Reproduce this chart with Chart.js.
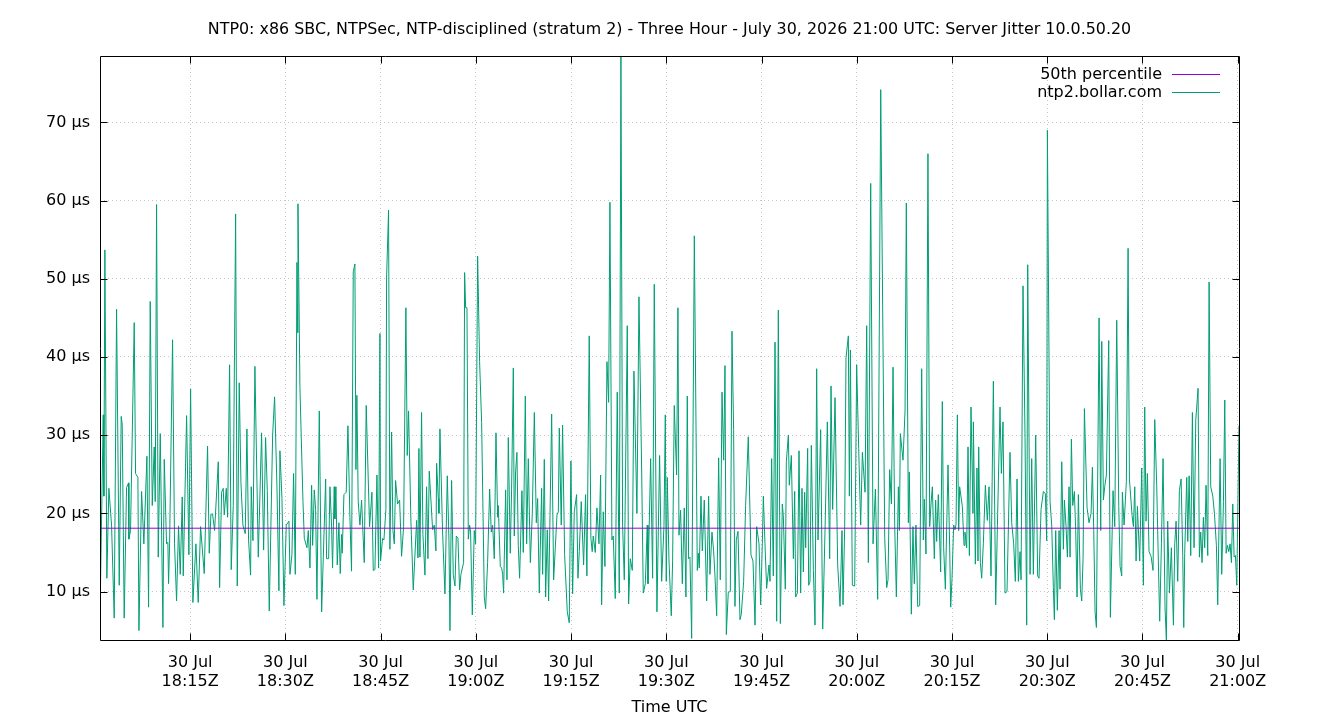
<!DOCTYPE html>
<html>
<head>
<meta charset="utf-8">
<script src="https://cdn.jsdelivr.net/npm/chart.js@4/dist/chart.umd.min.js"></script>
<style>
  html, body { margin: 0; padding: 0; background: #ffffff; }
  #wrap { width: 1340px; height: 720px; }
</style>
</head>
<body>
<div id="wrap"><canvas id="c" width="1340" height="720"></canvas></div>
<script>
// ---------- DATA ----------
const chartTitle = "NTP0: x86 SBC, NTPSec, NTP-disciplined (stratum 2) - Three Hour - July 30, 2026 21:00 UTC: Server Jitter 10.0.50.20";
const xAxisTitle = "Time UTC";
const seriesLabel = "ntp2.bollar.com";
const medianLabel = "50th percentile";
const medianJitterUs = 18.1;

// minutes after 18:00Z
const xTickMinutes = [15, 30, 45, 60, 75, 90, 105, 120, 135, 150, 165, 180];
const xTickLabels = [
  ["30 Jul", "18:15Z"], ["30 Jul", "18:30Z"], ["30 Jul", "18:45Z"], ["30 Jul", "19:00Z"],
  ["30 Jul", "19:15Z"], ["30 Jul", "19:30Z"], ["30 Jul", "19:45Z"], ["30 Jul", "20:00Z"],
  ["30 Jul", "20:15Z"], ["30 Jul", "20:30Z"], ["30 Jul", "20:45Z"], ["30 Jul", "21:00Z"]
];
const yTickValues = [10, 20, 30, 40, 50, 60, 70];
const yTickLabels = ["10 µs", "20 µs", "30 µs", "40 µs", "50 µs", "60 µs", "70 µs"];

// sample times, minutes after 18:00Z
const sampleMinutes = [
  0.80,1.31,1.41,1.57,1.88,2.20,2.62,3.04,3.41,3.83,4.14,4.30,4.61,4.98,5.30,5.35,5.61,6.19,6.40,6.77,6.93,7.35,7.71,8.19,8.45,8.71,9.03,9.34,9.50,9.71,9.97,10.29,10.71,10.92,11.28,11.49,11.60,11.76,12.23,12.54,12.86,13.17,13.44,13.75,13.91,14.44,14.80,15.07,15.43,15.91,16.27,16.64,17.22,17.74,18.01,18.27,18.53,18.85,
  19.43,19.64,19.95,20.21,20.37,20.69,20.90,21.21,21.47,21.79,22.16,22.42,22.73,23.00,23.31,23.68,23.94,24.20,24.52,24.62,24.89,25.20,25.73,26.25,26.57,26.88,27.15,27.46,27.99,28.30,28.67,28.98,29.14,29.46,29.77,30.14,30.56,30.72,31.03,31.29,31.56,31.82,31.93,31.98,32.29,32.77,32.98,33.40,33.61,33.87,34.13,34.29,34.55,34.76,34.97,35.34,35.71,36.34,36.49,36.81,37.02,
  37.27,37.43,37.69,37.80,37.96,38.17,38.43,38.64,38.85,38.95,39.22,39.58,39.85,40.16,40.42,40.69,40.95,41.11,41.26,41.47,41.74,42.00,42.42,42.73,43.05,43.26,43.63,43.84,44.10,44.42,44.68,44.89,44.99,45.31,45.52,45.83,45.94,46.25,46.46,46.73,46.94,47.15,47.36,47.67,47.99,48.30,48.62,48.98,49.19,49.40,49.77,50.14,50.67,50.88,51.03,51.19,51.45,51.66,51.98,52.24,52.45,52.66,53.19,53.45,53.71,53.82,54.08,54.18,54.34,54.76,55.13,
  55.50,55.76,55.92,56.18,56.44,56.71,56.92,57.18,57.44,57.65,58.07,58.23,58.39,58.60,58.81,59.02,59.17,59.44,59.75,59.96,60.28,60.59,60.91,61.33,61.54,61.85,62.17,62.43,62.64,62.90,63.17,63.43,63.53,63.85,64.06,64.22,64.37,64.69,64.90,65.11,65.42,65.63,65.90,66.05,66.26,66.47,66.68,66.89,67.26,67.47,67.79,68.00,68.26,68.58,68.89,69.21,69.52,69.73,69.99,70.36,70.52,70.78,70.99,71.25,71.46,71.94,72.25,72.78,72.99,73.14,
  73.45,73.66,73.98,74.40,74.71,74.97,75.24,75.50,75.87,76.08,76.29,76.60,76.97,77.28,77.49,77.86,78.12,78.33,78.49,78.81,79.07,79.39,79.65,79.81,80.07,80.33,80.65,80.91,81.12,81.43,81.64,81.96,82.27,82.59,82.85,83.11,83.38,83.85,84.06,84.32,84.64,84.90,85.37,85.69,86.11,86.37,86.69,87.00,87.11,87.53,87.84,88.10,88.52,88.94,89.26,89.63,89.84,89.99,90.15,90.41,90.78,90.99,91.25,
  91.62,91.83,91.99,92.25,92.52,92.83,93.09,93.30,93.51,93.72,93.99,94.41,94.88,95.04,95.19,95.46,95.67,95.98,96.35,96.66,96.87,97.19,97.45,97.66,97.93,98.24,98.50,98.77,99.03,99.24,99.45,99.76,100.08,100.34,100.60,100.81,101.02,101.29,101.60,101.81,102.18,102.49,102.91,103.33,103.65,103.97,104.23,104.60,104.86,105.12,105.28,105.54,105.80,106.17,106.33,106.59,106.85,107.12,107.38,107.64,107.96,108.27,108.43,108.74,108.90,109.22,109.37,
  109.69,110.01,110.22,110.37,110.64,110.90,111.16,111.37,111.58,111.79,111.95,112.26,112.42,112.63,112.84,113.16,113.42,113.68,113.89,114.31,114.63,114.99,115.36,115.73,115.94,116.20,116.57,116.99,117.36,117.67,117.83,118.09,118.30,118.67,118.83,118.99,119.30,119.67,119.98,120.30,120.61,120.88,121.30,121.56,121.82,122.19,122.56,122.93,123.29,123.77,124.40,124.71,124.92,125.18,125.45,125.71,125.97,126.23,126.55,126.71,126.86,127.28,127.60,
  127.80,128.12,128.27,128.59,128.85,129.06,129.32,129.59,129.90,130.22,130.48,130.64,130.90,131.21,131.48,131.69,131.90,132.21,132.42,132.58,132.84,133.21,133.47,133.68,133.95,134.37,134.63,134.79,135.00,135.26,135.47,135.63,135.84,136.05,136.20,136.62,136.89,137.04,137.31,137.52,137.73,137.99,138.30,138.36,138.67,138.93,139.09,139.20,139.46,139.67,139.93,140.25,140.56,140.83,141.14,141.51,141.88,142.19,142.56,142.77,143.03,143.35,143.66,144.13,144.40,144.71,144.97,145.24,145.45,145.71,
  145.87,146.18,146.50,146.76,146.92,147.29,147.55,147.81,148.18,148.49,148.70,149.02,149.39,149.70,149.91,150.02,150.44,150.70,150.96,151.12,151.33,151.59,151.86,152.01,152.28,152.54,152.70,152.96,153.17,153.43,153.59,153.80,154.01,154.27,154.48,154.69,154.90,155.22,155.43,155.64,155.85,156.27,156.58,156.90,157.11,157.32,157.53,157.74,158.16,158.42,158.58,158.84,159.05,159.31,159.68,159.94,160.36,160.63,160.94,161.26,161.47,161.73,161.83,162.10,162.46,162.73,162.94,163.36,163.57,163.78,
  163.99,164.20,164.35,164.56,164.88,165.14,165.35,165.56,165.77,166.03,166.35,166.66,166.93,167.24,167.45,167.71,167.98,168.24,168.55,168.76,168.97,169.24,169.55,169.87,170.08,170.29,170.55,170.81,171.08,171.34,171.50,171.65,171.97,172.13,172.34,172.60,172.86,173.12,173.39,173.75,173.96,174.17,174.38,174.59,174.80,175.01,175.28,175.49,175.75,176.07,176.33,176.64,176.85,177.22,177.48,177.75,177.96,178.17,178.38,178.59,178.80,179.01,179.22,179.43,179.64,179.85,180.20
];

// server jitter, microseconds
const jitterUs = [
  6.9,32.6,22.2,53.7,11.7,23.2,18.5,6.6,46.1,10.8,32.4,31.4,6.6,23.3,23.9,16.7,17.8,44.4,25.1,24.6,5.0,22.8,16.1,27.3,8.0,47.1,21.0,28.5,21.5,59.5,14.4,30.2,5.4,26.9,16.1,16.3,11.0,16.1,42.2,16.1,8.8,18.4,12.2,22.1,12.0,32.5,14.7,35.9,8.6,16.1,8.6,18.3,12.3,28.6,14.9,19.9,19.9,17.8,
  26.6,10.5,22.7,23.2,19.8,23.2,19.5,39.0,12.8,21.0,58.3,10.7,36.7,23.9,18.5,17.4,30.8,16.6,12.1,23.4,16.5,38.8,14.4,30.3,15.3,29.7,22.9,7.5,30.0,34.9,23.4,10.1,28.0,21.9,8.2,18.5,19.0,12.2,14.7,25.1,12.2,52.1,43.1,59.6,36.1,21.5,16.8,15.6,17.8,13.0,23.6,15.9,23.0,20.5,9.0,33.1,7.4,24.4,14.2,14.2,23.4,
  18.5,13.0,23.4,19.3,23.4,13.4,18.8,12.3,17.3,14.9,22.4,22.7,31.2,19.5,12.6,50.9,51.9,25.6,35.1,21.5,18.5,21.7,13.7,33.8,24.4,18.3,22.7,12.7,12.8,24.9,13.0,43.0,13.9,16.8,16.6,20.5,50.1,58.8,15.4,30.4,17.8,16.1,24.2,21.2,21.7,14.5,18.3,46.3,27.4,33.1,19.0,10.2,19.1,14.3,28.3,14.4,32.9,17.3,12.1,23.4,14.2,25.4,17.9,18.5,15.2,26.4,21.9,20.0,30.8,17.6,9.7,
  24.8,16.6,5.0,24.2,12.2,10.7,17.1,16.8,10.2,12.2,13.7,50.8,46.3,46.3,16.7,18.5,17.6,7.0,17.8,16.1,52.9,39.4,31.6,9.3,7.8,13.7,23.1,17.6,18.5,14.2,30.3,19.5,21.0,13.2,13.0,12.2,9.8,23.0,11.5,29.7,14.9,23.1,38.6,17.1,25.3,27.8,15.9,11.7,22.9,15.0,35.0,16.1,27.0,13.7,20.0,32.9,18.8,21.9,9.8,23.2,12.2,26.9,9.3,17.9,8.8,32.7,11.5,19.8,20.2,30.9,
  18.5,31.3,14.7,7.4,6.0,26.7,9.7,20.2,22.4,11.7,15.1,21.5,13.4,22.4,12.0,42.7,16.8,15.1,17.1,15.0,20.7,16.1,24.9,8.3,20.2,13.2,39.4,34.2,59.8,16.6,17.1,9.1,35.5,9.8,78.5,18.5,11.5,44.0,8.4,14.2,12.7,38.2,20.0,47.7,25.8,9.8,11.0,18.5,11.0,27.0,11.7,49.3,7.4,27.4,11.3,18.4,32.6,11.3,24.6,14.2,6.9,13.9,33.8,
  24.9,46.3,17.2,20.4,11.0,20.7,9.3,35.0,14.2,14.4,4.0,55.5,12.7,14.9,13.0,22.2,15.2,21.7,8.8,22.2,12.2,17.6,15.2,12.0,6.9,27.1,11.5,35.5,26.8,38.9,4.5,9.9,10.0,43.3,30.7,8.1,16.6,17.7,6.4,7.1,11.3,21.0,29.8,14.7,13.9,5.7,18.3,16.1,8.3,16.1,22.2,16.1,10.4,13.4,11.3,27.0,12.0,41.9,6.2,46.0,5.9,21.2,19.7,10.3,26.6,30.0,23.6,
  27.4,14.2,22.8,9.3,9.8,28.0,9.8,23.2,12.5,22.7,15.6,28.3,10.8,11.3,28.7,12.7,5.7,38.5,16.6,30.7,5.2,17.6,31.7,14.2,36.3,20.5,34.8,13.4,8.1,17.8,8.3,18.1,39.9,42.7,22.2,40.9,10.8,10.7,39.0,28.3,18.5,27.8,22.7,44.0,13.7,62.2,16.1,23.1,9.0,74.2,16.8,10.5,11.5,25.6,21.2,38.7,18.5,9.3,23.4,17.8,30.2,26.8,33.1,
  59.7,18.8,25.3,7.1,18.3,11.0,18.5,8.1,8.2,38.5,16.6,21.8,14.8,66.0,18.3,21.2,23.4,14.2,21.7,16.4,22.4,12.5,34.3,15.6,10.3,26.2,15.6,8.0,11.7,18.5,17.9,18.6,32.6,17.8,23.4,20.9,15.9,17.6,15.6,28.5,14.6,33.6,20.0,31.7,13.5,25.8,13.9,28.5,13.7,11.7,16.1,23.6,19.1,23.4,12.0,36.9,8.3,20.0,33.6,25.1,31.7,9.8,10.0,27.8,18.8,16.1,11.3,24.4,11.3,15.1,
  11.5,49.1,29.7,5.7,51.8,12.2,27.0,12.2,30.0,12.0,11.7,20.5,22.8,22.5,16.5,69.0,21.5,18.5,10.5,6.4,17.8,7.6,17.8,10.3,26.6,15.4,21.7,18.3,14.4,23.4,14.4,29.5,21.0,22.8,17.8,9.3,22.4,10.3,8.8,14.2,33.4,20.7,18.8,20.0,25.9,17.8,7.4,5.4,45.0,17.8,42.0,21.7,23.4,24.9,42.1,6.7,22.9,18.3,44.7,20.9,13.2,12.0,22.7,18.5,24.1,53.9,24.4,19.7,18.3,23.4,
  13.9,20.9,18.0,13.9,25.8,10.8,33.6,19.0,25.1,15.1,14.5,12.7,32.0,23.6,15.6,6.2,16.1,27.0,7.9,3.8,19.0,9.8,15.6,5.7,16.1,19.0,11.3,22.9,24.4,14.6,5.4,14.9,24.6,16.4,24.8,14.6,32.9,15.6,31.9,36.0,14.4,17.6,13.7,19.5,15.6,23.6,14.6,49.6,23.4,22.2,20.0,15.9,8.3,27.0,12.2,21.5,34.5,14.9,15.9,15.1,16.1,13.7,21.2,14.4,14.6,10.8,31.2
];

// ---------- CHART ----------
const FONT = "'DejaVu Sans', 'Liberation Sans', sans-serif";
const FS = 16;
const GREEN = '#009e73';
const PURPLE = '#9400d3';

const nPts = Math.min(sampleMinutes.length, jitterUs.length);
const seriesPoints = [];
for (let i = 0; i < nPts; i++) seriesPoints.push({ x: sampleMinutes[i], y: jitterUs[i] });
const xMin = sampleMinutes[0];
const xMax = sampleMinutes[nPts - 1];
const yMin = Math.min.apply(null, jitterUs.slice(0, nPts));
const yMax = Math.max.apply(null, jitterUs.slice(0, nPts));
const medianPoints = [{ x: xMin, y: medianJitterUs }, { x: xMax, y: medianJitterUs }];

const framePlugin = {
  id: 'gnuplotFrame',
  afterDraw(chart) {
    const ctx = chart.ctx;
    const a = chart.chartArea;
    const xs = chart.scales.x, ys = chart.scales.y;
    ctx.save();
    // border
    ctx.strokeStyle = '#000';
    ctx.lineWidth = 1;
    const L = Math.round(a.left) + 0.5, R = Math.round(a.right) + 0.5;
    const T = Math.round(a.top) + 0.5, B = Math.round(a.bottom) + 0.5;
    ctx.beginPath();
    ctx.rect(L, T, R - L, B - T);
    ctx.stroke();
    // inward ticks (mirrored)
    const TL = 7;
    ctx.beginPath();
    xs.ticks.forEach(t => {
      const px = Math.round(xs.getPixelForValue(t.value)) + 0.5;
      ctx.moveTo(px, B); ctx.lineTo(px, B - TL);
      ctx.moveTo(px, T); ctx.lineTo(px, T + TL);
    });
    ys.ticks.forEach(t => {
      const py = Math.round(ys.getPixelForValue(t.value)) + 0.5;
      ctx.moveTo(L, py); ctx.lineTo(L + TL, py);
      ctx.moveTo(R, py); ctx.lineTo(R - TL, py);
    });
    ctx.stroke();
    // title
    ctx.fillStyle = '#000';
    ctx.font = '15.9px ' + FONT;
    ctx.textAlign = 'center';
    ctx.textBaseline = 'middle';
    ctx.fillText(chartTitle, (a.left + a.right) / 2, 30);
    // legend (key) top-right inside plot
    ctx.font = FS + 'px ' + FONT;
    const rows = [
      { label: medianLabel, color: PURPLE },
      { label: seriesLabel, color: GREEN }
    ];
    const textRight = a.right - 77;
    const lineX0 = a.right - 67, lineX1 = a.right - 19;
    rows.forEach((r, i) => {
      const y = a.top + 19 + i * 18;
      ctx.textAlign = 'right';
      ctx.fillStyle = '#000';
      ctx.fillText(r.label, textRight, y);
      ctx.strokeStyle = r.color;
      ctx.lineWidth = 1;
      ctx.beginPath();
      ctx.moveTo(lineX0, Math.round(y) - 0.5);
      ctx.lineTo(lineX1, Math.round(y) - 0.5);
      ctx.stroke();
    });
    ctx.restore();
  }
};

const gridCommon = { color: '#c4c4c4', lineWidth: 1, drawTicks: false };

new Chart(document.getElementById('c'), {
  type: 'line',
  data: {
    datasets: [
      {
        label: medianLabel,
        data: medianPoints,
        borderColor: PURPLE,
        backgroundColor: PURPLE,
        borderWidth: 1,
        pointRadius: 0,
        tension: 0,
        fill: false
      },
      {
        label: seriesLabel,
        data: seriesPoints,
        borderColor: GREEN,
        backgroundColor: GREEN,
        borderWidth: 1,
        pointRadius: 0,
        tension: 0,
        fill: false
      }
    ]
  },
  options: {
    responsive: false,
    animation: false,
    devicePixelRatio: 1,
    events: [],
    layout: { padding: { left: 0, right: 101, top: 56, bottom: 0 } },
    plugins: {
      legend: { display: false },
      title: { display: false },
      tooltip: { enabled: false }
    },
    scales: {
      x: {
        type: 'linear',
        min: xMin,
        max: xMax,
        afterBuildTicks: s => { s.ticks = xTickMinutes.map(v => ({ value: v })); },
        afterFit: s => { s.height = 80; },
        ticks: {
          autoSkip: false,
          maxRotation: 0,
          minRotation: 0,
          padding: 13,
          color: '#000',
          font: { family: FONT, size: FS, lineHeight: 1.19 },
          callback: v => xTickLabels[xTickMinutes.indexOf(v)]
        },
        grid: gridCommon,
        border: { display: false, dash: [1, 3] },
        title: {
          display: true,
          text: xAxisTitle,
          color: '#000',
          font: { family: FONT, size: FS },
          padding: { top: 0, bottom: 3 }
        }
      },
      y: {
        type: 'linear',
        min: yMin,
        max: yMax,
        afterBuildTicks: s => { s.ticks = yTickValues.map(v => ({ value: v })); },
        afterFit: s => { s.width = 100; },
        ticks: {
          padding: 10,
          color: '#000',
          font: { family: FONT, size: FS },
          callback: v => yTickLabels[yTickValues.indexOf(v)]
        },
        grid: gridCommon,
        border: { display: false, dash: [1, 3] }
      }
    }
  },
  plugins: [framePlugin]
});
</script>
</body>
</html>
